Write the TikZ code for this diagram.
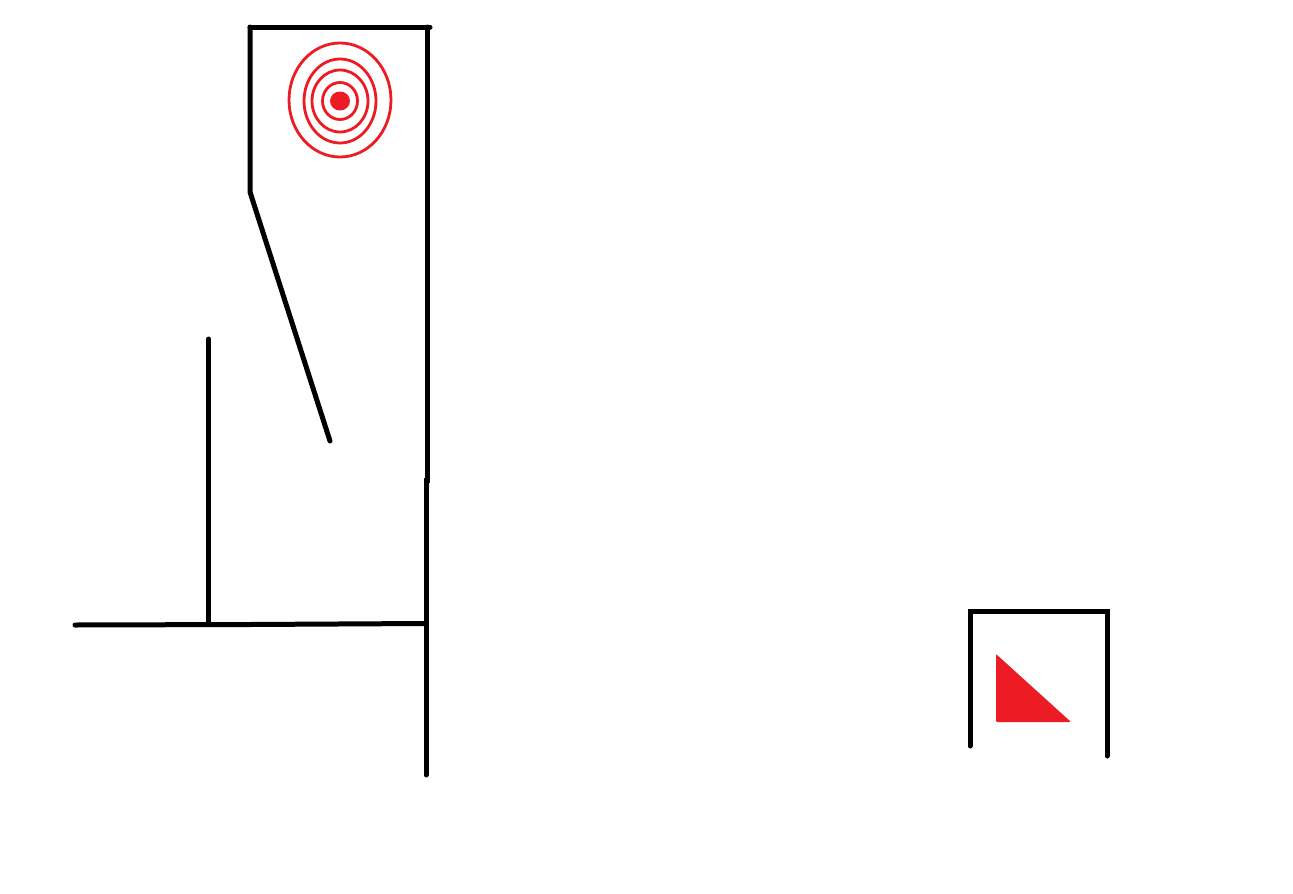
\documentclass[tikz,border=0pt]{standalone}
\usepackage{tikz}
\definecolor{mred}{RGB}{237,28,36}
\tikzset{
  wall/.style={black, line width=5pt, line cap=round},
  ring/.style={mred, line width=2.8pt},
}
\begin{document}
\begin{tikzpicture}[x=1pt,y=-1pt]
\useasboundingbox[fill=white] (0,0) rectangle (1293,894);
% main frame
\draw[wall] (250,27) -- (430,27);
\draw[wall] (250,27) -- (250,192) -- (330,441);
\draw[wall] (427,27) -- (427,480) -- (426,480) -- (426,775);
\draw[wall] (208.5,339) -- (208.5,624);
\draw[wall] (75,625) -- (250,624.5) -- (424,623.5);
% concentric rings
\draw[ring] (340,100) ellipse [x radius=51, y radius=57];
\draw[ring] (340,101) ellipse [x radius=36, y radius=42];
\draw[ring] (340,101) ellipse [x radius=28, y radius=31];
\draw[ring] (340,101) ellipse [x radius=17.5, y radius=18.5];
\fill[mred] (340,101) ellipse [x radius=10, y radius=9.5];
% small box
\draw[wall] (970,746) -- (970,611) -- (1107,611) -- (1107,756);
\fill[mred, rounded corners=1pt] (996,654) -- (996,722) -- (1071,722) -- cycle;
\end{tikzpicture}
\end{document}
